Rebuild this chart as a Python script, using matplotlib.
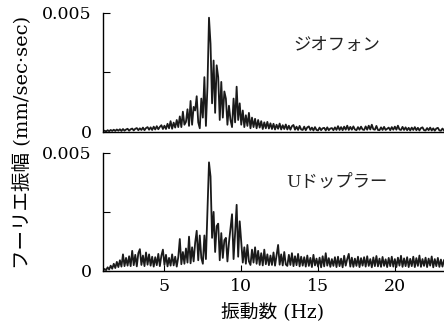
import numpy as np
import matplotlib
matplotlib.use("Agg")
import matplotlib.pyplot as plt

# frequency grid (Hz), 0.1 Hz step from 1.0 to 23.2
freq = np.linspace(1.0, 23.2, 223)

UNIT = 1e-4  # values below are in units of 1e-4 mm/sec·sec

geophone = [
    0.3, 0.5, 0.2, 0.7, 0.3, 0.8, 0.4, 0.9, 0.4, 1.0,
    0.5, 1.1, 0.4, 1.2, 0.5, 1.0, 1.3, 0.5, 1.1, 1.4,
    0.6, 1.3, 1.6, 0.7, 1.5, 0.8, 1.8, 0.7, 1.6, 2.0,
    0.9, 1.9, 0.8, 2.2, 1.0, 2.4, 1.1, 2.1, 2.8, 1.2,
    2.6, 1.2, 3.4, 1.5, 4.5, 1.3, 3.9, 1.8, 5.0, 2.0,
    6.5, 2.0, 8.5, 3.0, 4.2, 9.5, 2.5, 13.0, 3.0, 10.5,
    9.0, 15.0, 4.0, 1.5, 14.0, 6.0, 23.0, 2.5, 19.0, 48.0,
    37.0, 12.0, 30.0, 8.0, 28.0, 23.0, 5.0, 21.0, 6.0, 17.0,
    14.0, 3.0, 11.0, 5.0, 2.0, 14.0, 4.0, 19.0, 5.0, 12.0,
    3.0, 9.0, 2.0, 7.0, 2.5, 8.0, 1.5, 6.0, 2.0, 5.5,
    1.5, 5.0, 1.8, 4.5, 1.2, 4.0, 1.5, 4.2, 1.4, 3.6,
    1.2, 3.4, 1.0, 3.0, 1.3, 3.5, 1.0, 2.8, 1.2, 3.1,
    1.0, 2.6, 0.9, 2.4, 2.9, 0.9, 2.2, 0.8, 2.5, 1.0,
    0.8, 2.2, 0.7, 1.9, 2.3, 0.8, 1.8, 0.6, 2.0, 0.8,
    0.6, 1.8, 0.7, 1.5, 1.7, 0.6, 1.9, 0.7, 1.4, 1.6,
    0.7, 1.9, 0.8, 2.4, 0.8, 2.0, 0.7, 2.2, 0.9, 2.6,
    0.8, 2.1, 0.9, 2.3, 1.0, 0.7, 2.0, 0.9, 2.2, 1.0,
    0.8, 2.3, 0.9, 2.6, 1.0, 3.0, 1.1, 0.9, 2.5, 0.8,
    0.7, 1.9, 0.8, 2.1, 0.8, 1.3, 1.8, 0.7, 2.0, 0.9,
    2.2, 0.9, 2.6, 1.0, 0.8, 2.1, 0.8, 1.9, 0.7, 1.7,
    0.6, 1.8, 0.8, 2.0, 0.7, 1.7, 0.6, 1.6, 1.9, 0.7,
    0.6, 1.6, 0.7, 1.8, 0.6, 1.5, 0.5, 1.4, 1.7, 0.6,
    0.5, 1.4, 0.6,
]

doppler = [
    0.0, 0.8, 0.3, 1.5, 0.6, 2.2, 0.9, 3.0, 1.2, 3.8,
    1.6, 4.5, 1.8, 7.0, 2.0, 5.5, 2.2, 6.2, 2.0, 8.5,
    2.4, 6.8, 1.9, 7.5, 9.2, 2.5, 6.5, 2.0, 7.8, 2.6,
    7.0, 2.2, 6.0, 1.8, 5.8, 2.4, 7.2, 2.0, 6.4, 9.0,
    2.5, 6.8, 1.9, 5.5, 2.2, 7.0, 2.3, 6.0, 1.8, 5.8,
    13.5, 2.8, 8.0, 3.0, 9.5, 3.5, 14.5, 3.2, 10.0, 4.0,
    12.0, 17.0, 4.5, 15.0, 5.5, 3.0, 15.0, 5.0, 25.0, 46.0,
    40.0, 14.0, 25.0, 8.0, 19.0, 20.0, 4.5, 16.0, 5.5, 13.0,
    14.0, 4.0, 12.0, 18.0, 24.0, 5.0, 16.0, 28.0, 6.0, 21.0,
    12.0, 3.5, 10.0, 3.0, 11.0, 4.0, 2.5, 9.0, 3.5, 10.0,
    3.0, 8.5, 2.5, 7.5, 2.3, 9.0, 2.8, 7.0, 2.4, 6.5,
    2.5, 7.8, 2.2, 6.5, 11.0, 2.6, 7.0, 2.3, 8.0, 2.7,
    2.1, 6.8, 2.5, 7.5, 2.0, 6.2, 2.4, 7.2, 1.9, 6.0,
    2.2, 5.8, 1.8, 6.5, 2.1, 5.5, 1.6, 6.8, 2.3, 5.2,
    1.8, 5.6, 1.5, 6.2, 1.9, 7.5, 2.2, 5.4, 1.7, 5.0,
    2.1, 5.8, 1.6, 6.0, 2.0, 5.2, 1.5, 6.4, 2.2, 5.0,
    7.2, 1.8, 5.6, 1.7, 5.2, 2.1, 6.0, 1.6, 5.4, 2.2,
    5.8, 1.8, 6.2, 2.1, 5.0, 1.5, 5.7, 2.0, 6.3, 1.9,
    5.2, 1.7, 5.9, 2.1, 4.9, 1.6, 5.5, 2.0, 6.0, 1.8,
    5.0, 1.6, 5.6, 2.2, 6.4, 1.7, 5.3, 2.0, 5.8, 1.6,
    5.1, 2.0, 6.0, 1.6, 5.4, 2.1, 6.5, 1.7, 5.0, 2.1,
    5.6, 1.6, 5.2, 2.2, 6.1, 1.5, 5.0, 2.0, 5.5, 1.7,
    4.8, 1.8, 4.5,
]

panel_labels = ["ジオフォン", "Uドップラー"]
xticks = [5, 10, 15, 20]
yticks = [0, 0.0025, 0.005]
yticklabels = ["0", "", "0.005"]

NUM = "DejaVu Serif"
JP = ["DejaVu Serif", "Noto Sans CJK JP"]

fig = plt.figure(figsize=(4.44, 3.24), dpi=100)
ax1 = fig.add_axes([0.232, 0.593, 0.768, 0.367])
ax2 = fig.add_axes([0.232, 0.164, 0.768, 0.364])

for ax, series, lab, ly in [(ax1, geophone, panel_labels[0], 0.73),
                            (ax2, doppler, panel_labels[1], 0.75)]:
    ax.plot(freq, np.array(series) * UNIT, color="#1a1a1a", lw=1.3)
    ax.set_xlim(1.0, 23.2)
    ax.set_ylim(0, 0.005)
    ax.spines["top"].set_visible(False)
    ax.spines["right"].set_visible(False)
    ax.spines["left"].set_linewidth(1.0)
    ax.spines["bottom"].set_linewidth(1.0)
    ax.set_yticks(yticks)
    ax.set_yticklabels(yticklabels, fontfamily=NUM, fontsize=12.5)
    ax.tick_params(axis="y", direction="in", length=5, pad=8)
    ax.text(0.685, ly, lab, transform=ax.transAxes, fontsize=12.5,
            family=JP, ha="center", va="center", color="#222222")

ax1.set_xticks([])
ax2.set_xticks(xticks)
ax2.set_xticklabels([str(t) for t in xticks], fontfamily=NUM, fontsize=12.5)
ax2.tick_params(axis="x", direction="in", length=4, pad=5)

fig.text(0.615, 0.035, "振動数 (Hz)", family=JP, fontsize=13.5,
         ha="center", va="center")
fig.text(0.05, 0.56, "フーリエ振幅 (mm/sec·sec)", family=JP, fontsize=14,
         rotation=90, ha="center", va="center")

fig.savefig("out.png", dpi=100)
